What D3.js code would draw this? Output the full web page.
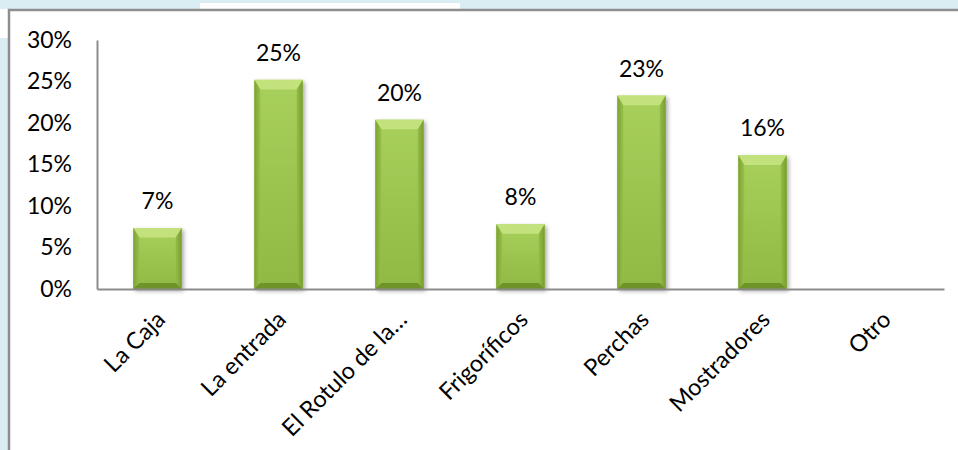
<!DOCTYPE html>
<html>
<head>
<meta charset="utf-8">
<script src="https://cdn.jsdelivr.net/npm/d3@7"></script>
<style>
  html, body { margin: 0; padding: 0; background: #daedf3; }
  svg { display: block; }
</style>
</head>
<body>
<svg id="chart" width="958" height="450"></svg>
<script>
// Categories and shares shown on the bar chart
const categories = ["La Caja", "La entrada", "El Rotulo de la\u2026", "Frigoríficos", "Perchas", "Mostradores", "Otro"];
const shares = [0.0735, 0.252, 0.204, 0.078, 0.233, 0.161, 0];
const yTicks = [0, 0.05, 0.10, 0.15, 0.20, 0.25, 0.30];

const W = 958, H = 450;
const font = "Lato, 'Liberation Sans', sans-serif";
const fs = 23;      // numbers
const fsCat = 23.5; // category names
const svg = d3.select("#chart");

// Page background pieces
svg.append("rect").attr("x", 0).attr("y", 0).attr("width", W).attr("height", H).attr("fill", "#daedf3");
svg.append("rect").attr("x", 200).attr("y", 3).attr("width", 260).attr("height", 10).attr("fill", "#ffffff");
svg.append("rect").attr("x", 0).attr("y", 9).attr("width", 10).attr("height", 29).attr("fill", "#ffffff");

// Chart frame
svg.append("rect").attr("x", 9).attr("y", 10).attr("width", W).attr("height", H)
  .attr("fill", "#ffffff").attr("stroke", "#8e8e8e").attr("stroke-width", 2.5);

const plot = { left: 97, right: 944, top: 40, bottom: 289 };

const x = d3.scaleBand().domain(categories).range([plot.left, plot.right]).padding(0);
const y = d3.scaleLinear().domain([0, 0.30]).range([plot.bottom, plot.top]);

const defs = svg.append("defs");
const face = defs.append("linearGradient").attr("id", "face").attr("x1", 0).attr("y1", 0).attr("x2", 0).attr("y2", 1);
face.append("stop").attr("offset", "0%").attr("stop-color", "#a8d05c");
face.append("stop").attr("offset", "100%").attr("stop-color", "#8fb943");
const sideL = defs.append("linearGradient").attr("id", "sideL").attr("x1", 0).attr("y1", 0).attr("x2", 1).attr("y2", 0);
sideL.append("stop").attr("offset", "0%").attr("stop-color", "#7da232");
sideL.append("stop").attr("offset", "100%").attr("stop-color", "#96c14a");
const sideR = defs.append("linearGradient").attr("id", "sideR").attr("x1", 0).attr("y1", 0).attr("x2", 1).attr("y2", 0);
sideR.append("stop").attr("offset", "0%").attr("stop-color", "#94be47");
sideR.append("stop").attr("offset", "100%").attr("stop-color", "#789c2f");
const shadow = defs.append("filter").attr("id", "shadow").attr("x", "-30%").attr("y", "-30%").attr("width", "160%").attr("height", "160%");
shadow.append("feDropShadow").attr("dx", 2).attr("dy", 2).attr("stdDeviation", 2)
  .attr("flood-color", "#000").attr("flood-opacity", 0.35);

// Y axis
const yAxis = d3.axisLeft(y).tickValues(yTicks).tickFormat(d3.format(".0%")).tickSize(0).tickPadding(25);
const gy = svg.append("g").attr("transform", `translate(${plot.left},0)`).call(yAxis);
gy.select(".domain").attr("stroke", "#8c8c8c").attr("stroke-width", 2);
gy.selectAll("text").attr("font-family", font).attr("font-size", fs).attr("fill", "#000");

// Bars with bevelled edges
const barFrac = 0.40;
const bev = 6;
const bars = svg.append("g").selectAll("g").data(categories.map((c, i) => ({ c, v: shares[i] })))
  .join("g").filter(d => d.v > 0);
bars.each(function (d) {
  const g = d3.select(this);
  const bw = x.bandwidth() * barFrac;
  const x0 = x(d.c) + (x.bandwidth() - bw) / 2, x1 = x0 + bw;
  const y0 = y(d.v), y1 = y(0);
  g.append("rect").attr("x", x0).attr("y", y0).attr("width", bw).attr("height", y1 - y0)
    .attr("fill", "url(#face)").attr("filter", "url(#shadow)");
  const b = Math.min(bev, (y1 - y0) / 3);
  g.append("polygon").attr("points", [[x0, y0], [x1, y0], [x1 - b, y0 + b * 1.6], [x0 + b, y0 + b * 1.6]].join(" "))
    .attr("fill", "#c3e27d");
  g.append("polygon").attr("points", [[x0, y0], [x0 + b, y0 + b * 1.6], [x0 + b, y1 - b], [x0, y1]].join(" "))
    .attr("fill", "url(#sideL)");
  g.append("polygon").attr("points", [[x1, y0], [x1, y1], [x1 - b, y1 - b], [x1 - b, y0 + b * 1.6]].join(" "))
    .attr("fill", "url(#sideR)");
  g.append("polygon").attr("points", [[x0, y1], [x0 + b, y1 - b], [x1 - b, y1 - b], [x1, y1]].join(" "))
    .attr("fill", "#6f9229");
});

// X axis baseline and rotated category labels
const xAxis = d3.axisBottom(x).tickSize(0).tickPadding(0);
const gx = svg.append("g").attr("transform", `translate(0,${plot.bottom})`).call(xAxis);
gx.select(".domain").attr("stroke", "#8c8c8c").attr("stroke-width", 2);
gx.selectAll(".tick text")
  .attr("font-family", font).attr("font-size", fsCat).attr("fill", "#000")
  .attr("text-anchor", "end").attr("dy", 0)
  .attr("transform", "translate(9,32) rotate(-45)");

// Value labels above bars
svg.append("g").selectAll("text").data(categories.map((c, i) => ({ c, v: shares[i] })).filter(d => d.v > 0))
  .join("text")
  .attr("x", d => x(d.c) + x.bandwidth() / 2)
  .attr("y", d => y(d.v) - 19)
  .attr("text-anchor", "middle")
  .attr("font-family", font).attr("font-size", fs).attr("fill", "#000")
  .text(d => d3.format(".0%")(d.v));
</script>
</body>
</html>
